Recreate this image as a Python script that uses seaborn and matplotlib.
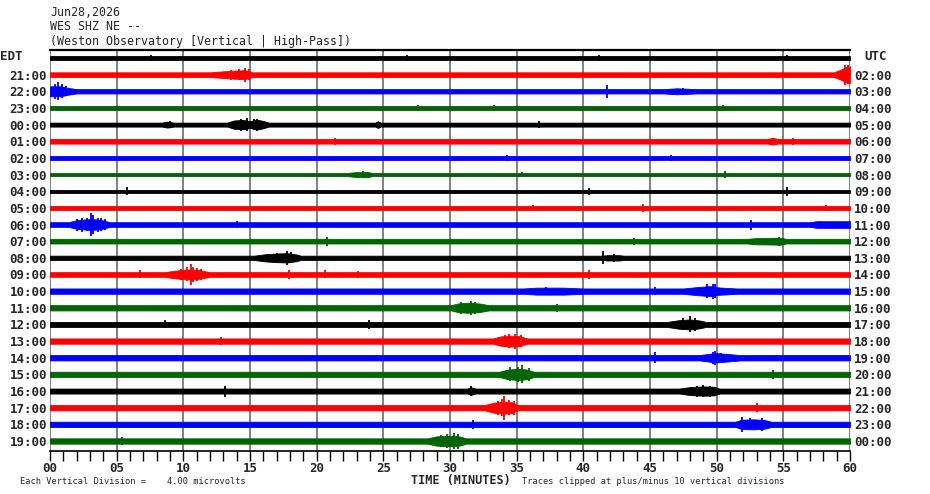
import matplotlib
matplotlib.use("Agg")
import matplotlib.pyplot as plt
import numpy as np
import pandas as pd
import seaborn as sns

# ---------------- data ----------------
date_text = "Jun28,2026"
station_text = "WES SHZ NE --"
source_text = "(Weston Observatory [Vertical | High-Pass])"
scale_text = "Each Vertical Division =    4.00 microvolts"
clip_text = "Traces clipped at plus/minus 10 vertical divisions"
xlabel_text = "TIME (MINUTES)"

edt_labels = ["20:00", "21:00", "22:00", "23:00", "00:00", "01:00", "02:00", "03:00",
              "04:00", "05:00", "06:00", "07:00", "08:00", "09:00", "10:00", "11:00",
              "12:00", "13:00", "14:00", "15:00", "16:00", "17:00", "18:00", "19:00"]
utc_labels = ["01:00", "02:00", "03:00", "04:00", "05:00", "06:00", "07:00", "08:00",
              "09:00", "10:00", "11:00", "12:00", "13:00", "14:00", "15:00", "16:00",
              "17:00", "18:00", "19:00", "20:00", "21:00", "22:00", "23:00", "00:00"]
minute_ticks = list(range(0, 61, 5))
minute_labels = ["00", "05", "10", "15", "20", "25", "30", "35", "40", "45", "50", "55", "60"]

trace_colors = ["#000000", "#ff0000", "#0000ff", "#006400"]

# background half-amplitude of each trace (in trace spacings)
baseline_amp = [0.12, 0.14, 0.13, 0.10, 0.12, 0.14, 0.11, 0.09,
                0.10, 0.11, 0.14, 0.14, 0.13, 0.14, 0.16, 0.16,
                0.15, 0.16, 0.16, 0.16, 0.15, 0.16, 0.16, 0.16]

# burst cores: row -> list of envelopes [(minute, half-amplitude), ...]
events = {
    1: [[(12.0, 0.14), (13.0, 0.20), (13.8, 0.24), (14.6, 0.27), (15.2, 0.14)],
        [(58.8, 0.14), (59.3, 0.30), (59.7, 0.45), (60.0, 0.50)]],
    2: [[(0.0, 0.30), (0.8, 0.30), (1.4, 0.20), (2.0, 0.13)],
        [(46.0, 0.13), (47.0, 0.18), (48.5, 0.13)]],
    4: [[(8.4, 0.12), (8.8, 0.18), (9.3, 0.12)],
        [(13.3, 0.12), (13.8, 0.25), (14.5, 0.28), (15.0, 0.20), (15.5, 0.30), (16.0, 0.22), (16.4, 0.12)],
        [(24.4, 0.12), (24.6, 0.20), (24.8, 0.12)]],
    5: [[(53.8, 0.14), (54.2, 0.20), (54.6, 0.14)]],
    7: [[(22.2, 0.09), (23.0, 0.15), (23.8, 0.16), (24.2, 0.09)]],
    10: [[(1.4, 0.14), (2.0, 0.26), (2.6, 0.30), (3.1, 0.33), (3.8, 0.28), (4.5, 0.14)],
         [(57.0, 0.14), (57.5, 0.20), (60.0, 0.20)]],
    11: [[(52.3, 0.14), (53.0, 0.19), (54.8, 0.21), (55.2, 0.14)]],
    12: [[(15.3, 0.13), (16.2, 0.22), (17.0, 0.26), (17.8, 0.28), (18.5, 0.20), (18.8, 0.13)],
         [(41.4, 0.13), (41.8, 0.16), (42.7, 0.16), (43.0, 0.13)]],
    13: [[(8.6, 0.14), (9.3, 0.22), (10.0, 0.28), (10.5, 0.30), (11.2, 0.26), (12.0, 0.14)]],
    14: [[(35.5, 0.16), (36.5, 0.21), (38.5, 0.21), (40.0, 0.16)],
         [(47.5, 0.16), (48.5, 0.24), (49.5, 0.30), (50.2, 0.22), (51.5, 0.16)]],
    15: [[(30.1, 0.16), (30.6, 0.26), (31.3, 0.30), (32.2, 0.26), (32.9, 0.16)]],
    16: [[(46.3, 0.15), (47.2, 0.26), (48.0, 0.30), (48.7, 0.24), (49.2, 0.15)]],
    17: [[(33.2, 0.16), (33.8, 0.28), (34.5, 0.33), (35.2, 0.30), (35.8, 0.16)]],
    18: [[(48.7, 0.16), (49.5, 0.24), (50.0, 0.28), (50.6, 0.24), (51.8, 0.16)]],
    19: [[(33.7, 0.16), (34.3, 0.28), (35.0, 0.33), (35.7, 0.30), (36.3, 0.16)]],
    20: [[(31.3, 0.15), (31.6, 0.22), (31.9, 0.15)],
         [(47.2, 0.15), (48.0, 0.24), (49.0, 0.28), (49.8, 0.26), (50.2, 0.15)]],
    21: [[(32.6, 0.16), (33.3, 0.30), (34.0, 0.36), (34.6, 0.33), (35.1, 0.16)]],
    22: [[(51.4, 0.16), (51.9, 0.28), (52.8, 0.30), (53.6, 0.26), (54.1, 0.16)]],
    23: [[(28.3, 0.16), (29.0, 0.28), (29.6, 0.30), (30.3, 0.32), (30.8, 0.26), (31.2, 0.16)]],
}

# individual spikes: row -> [(minute, half-amplitude), ...]
spikes = {
    0: [(7.6, 0.2), (26.8, 0.2), (41.2, 0.2), (55.3, 0.2)],
    1: [(13.6, 0.30), (14.2, 0.33), (14.6, 0.42), (14.9, 0.33), (59.6, 0.60), (59.85, 0.55)],
    2: [(0.4, 0.45), (0.6, 0.54), (0.9, 0.42), (1.2, 0.30), (41.8, 0.38), (47.5, 0.22)],
    3: [(33.3, 0.18), (27.6, 0.18), (50.5, 0.18)],
    4: [(14.3, 0.36), (14.75, 0.38), (15.3, 0.33), (15.5, 0.36), (9.0, 0.2), (36.7, 0.2)],
    5: [(54.2, 0.22), (55.7, 0.22), (21.4, 0.2)],
    6: [(46.6, 0.2), (34.3, 0.2)],
    7: [(23.5, 0.2), (50.6, 0.22), (35.4, 0.15)],
    8: [(5.8, 0.24), (55.3, 0.28), (40.4, 0.2)],
    9: [(36.2, 0.2), (44.5, 0.22), (58.2, 0.2)],
    10: [(2.0, 0.36), (2.4, 0.42), (2.8, 0.40), (3.1, 0.70), (3.2, 0.55), (3.6, 0.42),
         (3.8, 0.38), (4.1, 0.33), (52.6, 0.30), (14.0, 0.2)],
    11: [(20.8, 0.28), (54.7, 0.26), (43.8, 0.2)],
    12: [(17.0, 0.30), (17.8, 0.42), (18.1, 0.33), (41.5, 0.38), (42.3, 0.24)],
    13: [(6.75, 0.24), (9.8, 0.33), (10.25, 0.42), (10.55, 0.62), (10.7, 0.45), (11.0, 0.38),
         (11.3, 0.33), (17.9, 0.26), (20.6, 0.24), (40.4, 0.28), (23.1, 0.2)],
    14: [(37.2, 0.26), (49.3, 0.40), (49.7, 0.45), (49.9, 0.40), (45.4, 0.24)],
    15: [(30.8, 0.36), (31.6, 0.42), (31.9, 0.36), (38.0, 0.24)],
    16: [(23.9, 0.28), (47.5, 0.36), (48.0, 0.48), (48.4, 0.38), (8.6, 0.24)],
    17: [(34.1, 0.38), (34.4, 0.42), (34.9, 0.45), (35.3, 0.36), (12.8, 0.24)],
    18: [(45.4, 0.33), (49.7, 0.36), (49.9, 0.42), (50.3, 0.30)],
    19: [(34.5, 0.42), (35.1, 0.45), (35.4, 0.54), (35.9, 0.38), (54.2, 0.28)],
    20: [(13.1, 0.33), (31.6, 0.30), (48.5, 0.33), (49.0, 0.38), (49.5, 0.33)],
    21: [(33.6, 0.42), (33.9, 0.50), (34.05, 0.72), (34.4, 0.45), (34.8, 0.42), (53.0, 0.26)],
    22: [(51.9, 0.45), (52.5, 0.36), (53.4, 0.38), (31.7, 0.26)],
    23: [(29.3, 0.36), (29.8, 0.40), (30.3, 0.50), (30.6, 0.45), (5.4, 0.24)],
}

# ---------------- build envelope table ----------------
rows = []
for r, base in enumerate(baseline_amp):
    pts = {0.0: base, 60.0: base}
    for ev in events.get(r, []):
        for m, a in ev:
            pts[float(m)] = max(pts.get(float(m), 0.0), a)
    for m in sorted(pts):
        rows.append({"trace": f"t{r:02d}", "row": r, "minute": m, "amp": pts[m]})
env = pd.DataFrame(rows)
env["lower"] = env["row"] - env["amp"]
env["upper"] = env["row"] + env["amp"]

spk = pd.DataFrame([{"row": r, "minute": m, "amp": a}
                    for r, lst in spikes.items() for m, a in lst])

n_rows = len(baseline_amp)
palette = {f"t{r:02d}": trace_colors[r % 4] for r in range(n_rows)}

# ---------------- figure ----------------
sns.set_style("white")
plt.rcParams["font.family"] = ["DejaVu Sans Mono", "DejaVu Sans"]

fig = plt.figure(figsize=(9.3, 4.94), dpi=100)
W, H = 930, 494
ax = fig.add_axes([50 / W, 1 - 451 / H, 800 / W, 401 / H])

for r in range(n_rows):
    d = env[env["row"] == r]
    c = trace_colors[r % 4]
    ax.fill_between(d["minute"], d["lower"], d["upper"], color=c, lw=0.6,
                    edgecolor=c, zorder=3)
    s = spk[spk["row"] == r]
    if len(s):
        ax.vlines(s["minute"], s["row"] - s["amp"], s["row"] + s["amp"],
                  colors=c, lw=1.3, zorder=3)

sns.lineplot(data=env, x="minute", y="row", hue="trace", palette=palette,
             estimator=None, sort=True, legend=False, lw=1.0, ax=ax, zorder=4)

ax.set_xlim(0, 60)
ax.set_ylim(23.6, -0.48)

ax.set_xticks(minute_ticks)
ax.set_xticklabels(minute_labels, fontsize=9, fontweight="bold")
ax.set_xticks(range(0, 61), minor=True)
ax.tick_params(axis="x", which="both", direction="out", length=7, width=1,
               color="black", pad=1, bottom=True)
ax.grid(axis="x", which="major", color="#808080", lw=1.4, zorder=1)
ax.grid(axis="y", visible=False)
ax.set_axisbelow(True)

ax.set_yticks(range(1, n_rows))
ax.set_yticklabels(edt_labels[1:], fontsize=9, fontweight="bold")
ax.tick_params(axis="y", length=0, pad=2)
ax.set_xlabel("")
ax.set_ylabel("")

for s_ in ["left", "right"]:
    ax.spines[s_].set_visible(False)
ax.spines["top"].set_color("black")
ax.spines["top"].set_linewidth(1.6)
ax.spines["bottom"].set_color("black")
ax.spines["bottom"].set_linewidth(1.2)

ax2 = ax.twinx()
ax2.set_ylim(ax.get_ylim())
ax2.set_yticks(range(1, n_rows))
ax2.set_yticklabels(utc_labels[1:], fontsize=9, fontweight="bold")
ax2.tick_params(axis="y", length=0, pad=3)
ax2.grid(False)
for s_ in ax2.spines.values():
    s_.set_visible(False)

# header texts
fig.text(50 / W, 1 - 12 / H, date_text, fontsize=8.4, va="center", ha="left")
fig.text(50 / W, 1 - 27 / H, station_text, fontsize=8.4, va="center", ha="left")
fig.text(50 / W, 1 - 42 / H, source_text, fontsize=8.4, va="center", ha="left")
fig.text(0 / W, 1 - 56 / H, "EDT", fontsize=9, fontweight="bold", va="center", ha="left")
fig.text(864 / W, 1 - 56 / H, "UTC", fontsize=9, fontweight="bold", va="center", ha="left")

# footer texts
fig.text(461 / W, 1 - 480 / H, xlabel_text, fontsize=8.5, fontweight="bold",
         va="center", ha="center")
fig.text(20 / W, 1 - 481 / H, scale_text, fontsize=6.2, va="center", ha="left")
fig.text(522 / W, 1 - 481 / H, clip_text, fontsize=6.2, va="center", ha="left")

fig.savefig("out.png", dpi=100)
